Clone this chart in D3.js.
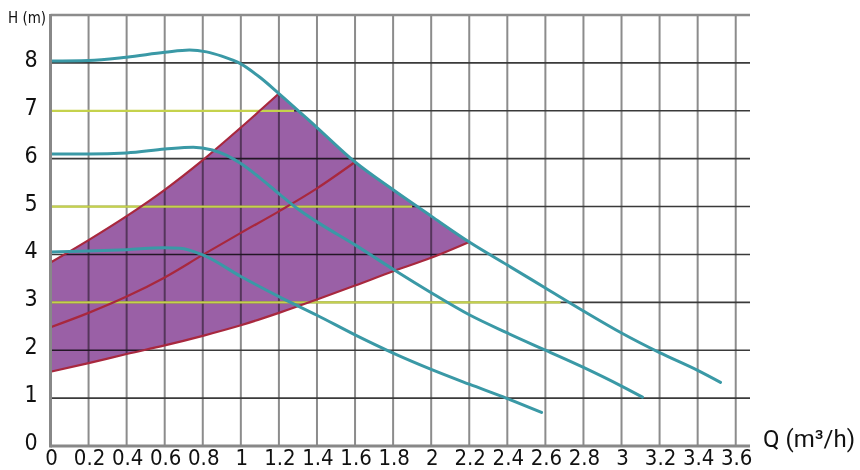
<!DOCTYPE html>
<html>
<head>
<meta charset="utf-8">
<script src="https://cdn.jsdelivr.net/npm/d3@7"></script>
<style>
  body { margin: 0; background: #fff; }
  svg { display: block; }
  .tick-label { font-family: "Liberation Sans Narrow", "DejaVu Sans Condensed", sans-serif; fill: #111; }
</style>
</head>
<body>
<svg id="chart" width="860" height="470"></svg>
<script>
// axis ticks
const qTicks = [0, 0.2, 0.4, 0.6, 0.8, 1, 1.2, 1.4, 1.6, 1.8, 2, 2.2, 2.4, 2.6, 2.8, 3, 3.2, 3.4, 3.6];
const hTicks = [0, 1, 2, 3, 4, 5, 6, 7, 8];

// pump curves [Q, H]
const curveHigh = [[0, 8.04], [0.2, 8.05], [0.4, 8.12], [0.6, 8.22], [0.73, 8.27], [0.82, 8.23], [0.9, 8.14], [1.0, 7.98],
  [1.1, 7.7], [1.2, 7.36], [1.4, 6.65], [1.6, 5.93], [1.8, 5.35], [2.0, 4.8], [2.2, 4.26], [2.4, 3.78], [2.6, 3.3],
  [2.8, 2.82], [3.0, 2.36], [3.2, 1.95], [3.4, 1.58], [3.52, 1.33]];
const curveMid = [[0, 6.1], [0.2, 6.1], [0.4, 6.12], [0.6, 6.2], [0.75, 6.24], [0.85, 6.18], [1.0, 5.9], [1.1, 5.6],
  [1.2, 5.27], [1.3, 4.95], [1.4, 4.68], [1.6, 4.2], [1.8, 3.69], [2.0, 3.2], [2.2, 2.74], [2.4, 2.36], [2.6, 2.0],
  [2.8, 1.64], [3.0, 1.25], [3.11, 1.02]];
const curveLow = [[0, 4.05], [0.2, 4.07], [0.4, 4.1], [0.6, 4.14], [0.68, 4.13], [0.8, 3.99], [1.0, 3.54], [1.2, 3.12],
  [1.4, 2.73], [1.6, 2.32], [1.8, 1.94], [2.0, 1.6], [2.2, 1.29], [2.4, 0.99], [2.58, 0.7]];

// system curves (red)
const redUpper = [[0, 3.83], [0.2, 4.3], [0.4, 4.8], [0.6, 5.35], [0.8, 5.97], [1.0, 6.65], [1.2, 7.36]];
const redMid = [[0, 2.48], [0.2, 2.78], [0.4, 3.12], [0.6, 3.52], [0.8, 3.99], [1.0, 4.45], [1.2, 4.9], [1.4, 5.38], [1.6, 5.93]];
const redLower = [[0, 1.55], [0.2, 1.73], [0.4, 1.92], [0.6, 2.1], [0.8, 2.3], [1.0, 2.52], [1.2, 2.78], [1.4, 3.06],
  [1.6, 3.35], [1.8, 3.65], [2.0, 3.93], [2.2, 4.26]];

// constant head lines [H, Q end]
const levels = [[7, 1.28], [5, 1.9], [3, 2.68]];

const svg = d3.select('#chart');

const x = d3.scaleLinear().domain([0, 3.675]).range([50.5, 750]);
const y = d3.scaleLinear().domain([0, 9]).range([446, 15]);

const line = d3.line()
  .x(d => x(d[0]))
  .y(d => y(d[1]))
  .curve(d3.curveMonotoneX);

// purple working area
const topEdge = curveHigh.filter(d => d[0] >= 1.2 && d[0] <= 2.2).reverse();
const areaPath = line(redLower) +
  line(topEdge).replace(/^M/, 'L') +
  line(redUpper.slice().reverse()).replace(/^M/, 'L') + 'Z';

svg.append('path')
  .attr('d', areaPath)
  .attr('fill', '#9a60a6');

// grid
const grid = svg.append('g').style('mix-blend-mode', 'multiply');

grid.selectAll('.vgrid')
  .data(qTicks.slice(1))
  .enter().append('line')
  .attr('x1', d => x(d)).attr('x2', d => x(d))
  .attr('y1', y(9)).attr('y2', y(0))
  .attr('stroke', '#8c8c8c')
  .attr('stroke-width', 2);

grid.selectAll('.hgrid')
  .data(hTicks.slice(1))
  .enter().append('line')
  .attr('x1', x(0)).attr('x2', x(3.675))
  .attr('y1', d => y(d)).attr('y2', d => y(d))
  .attr('stroke', '#3a3a3a')
  .attr('stroke-width', 1.6);

// top border
grid.append('line')
  .attr('x1', x(0)).attr('x2', x(3.675))
  .attr('y1', y(9)).attr('y2', y(9))
  .attr('stroke', '#8c8c8c')
  .attr('stroke-width', 2.5);

// yellow head lines
svg.selectAll('.level')
  .data(levels)
  .enter().append('line')
  .attr('x1', x(0)).attr('x2', d => x(d[1]))
  .attr('y1', d => y(d[0])).attr('y2', d => y(d[0]))
  .attr('stroke', '#c5d24c')
  .attr('stroke-width', 2.2);

// red system curves
[redUpper, redMid, redLower].forEach(data => {
  svg.append('path')
    .attr('d', line(data))
    .attr('fill', 'none')
    .attr('stroke', '#a8283e')
    .attr('stroke-width', 2.2);
});

// teal pump curves
[curveHigh, curveMid, curveLow].forEach(data => {
  svg.append('path')
    .attr('d', line(data))
    .attr('fill', 'none')
    .attr('stroke', '#3a99a6')
    .attr('stroke-width', 3)
    .attr('stroke-linecap', 'round');
});

// axis lines
svg.append('line')
  .attr('x1', x(0)).attr('x2', x(0))
  .attr('y1', y(9) - 1).attr('y2', y(0) + 1.5)
  .attr('stroke', '#888')
  .attr('stroke-width', 3);

svg.append('line')
  .attr('x1', x(0)).attr('x2', x(3.675))
  .attr('y1', y(0)).attr('y2', y(0))
  .attr('stroke', '#888')
  .attr('stroke-width', 3);

// tick labels
svg.selectAll('.ylab')
  .data(hTicks)
  .enter().append('text')
  .attr('class', 'tick-label')
  .attr('x', 31)
  .attr('y', d => y(d) + 4)
  .attr('text-anchor', 'middle')
  .style('font-size', '23px')
  .text(d => d);

svg.selectAll('.xlab')
  .data(qTicks)
  .enter().append('text')
  .attr('class', 'tick-label')
  .attr('x', d => x(d) + 1)
  .attr('y', 465)
  .attr('text-anchor', 'middle')
  .style('font-size', '22px')
  .text(d => d);

svg.append('text')
  .attr('class', 'tick-label')
  .attr('x', 8)
  .attr('y', 23)
  .style('font-size', '15px')
  .text('H (m)');

svg.append('text')
  .attr('x', 763)
  .attr('y', 447)
  .style('font-family', 'Roboto, "Liberation Sans", sans-serif')
  .style('font-size', '24px')
  .style('fill', '#111')
  .text('Q (m³/h)');
</script>
</body>
</html>
